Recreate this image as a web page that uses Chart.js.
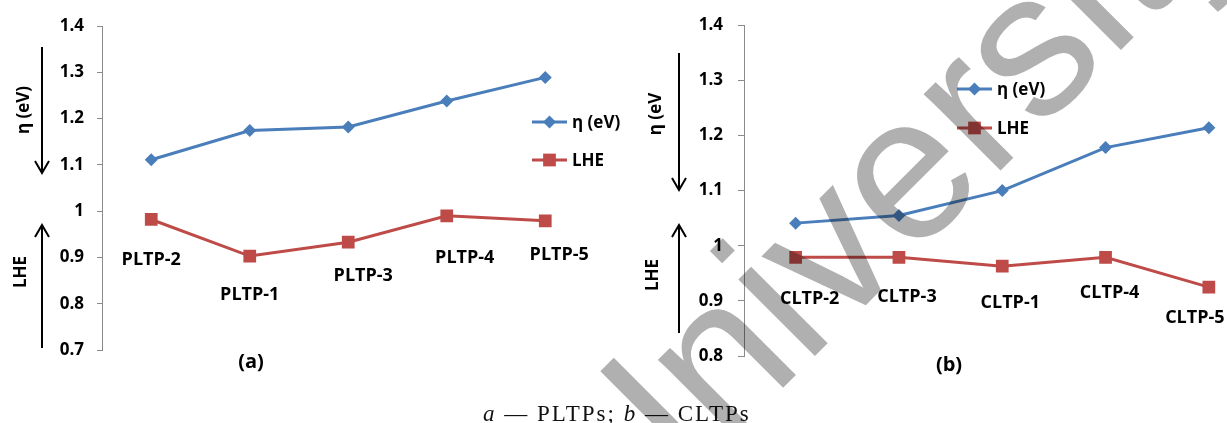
<!DOCTYPE html>
<html lang="en">
<head>
<meta charset="UTF-8">
<title>PLTPs / CLTPs</title>
<script src="https://cdn.jsdelivr.net/npm/chart.js"></script>
<style>
    html, body { margin: 0; padding: 0; background: #fff; overflow: hidden; }
    #wrap { position: relative; width: 1227px; height: 423px; overflow: hidden; }
    #boxA { position: absolute; left: 0; top: 0; }
    #boxB { position: absolute; left: 600px; top: 0; }
    #caption {
        position: absolute; left: 483px; top: 402px;
        font-family: "Liberation Serif", "Times New Roman", serif;
        font-size: 23px; line-height: 23px; letter-spacing: 2px;
        color: #111; white-space: nowrap;
    }
    #wm { position: absolute; left: 0; top: 0; mix-blend-mode: multiply; pointer-events: none; }
</style>
</head>
<body>
<div id="wrap">
    <div id="boxA"><canvas id="chartA" width="640" height="423"></canvas></div>
    <div id="boxB"><canvas id="chartB" width="680" height="423"></canvas></div>
    <div id="caption"><i>a</i> — PLTPs; <i>b</i> — CLTPs</div>
    <canvas id="wm" width="1227" height="423"></canvas>
</div>

<script>
// panel (a)
const catsA = ['PLTP-2', 'PLTP-1', 'PLTP-3', 'PLTP-4', 'PLTP-5'];
const etaA = [1.111, 1.174, 1.182, 1.238, 1.289];
const lheA = [0.982, 0.903, 0.933, 0.990, 0.979];

// panel (b)
const catsB = ['CLTP-2', 'CLTP-3', 'CLTP-1', 'CLTP-4', 'CLTP-5'];
const etaB = [1.041, 1.055, 1.100, 1.178, 1.214];
const lheB = [0.979, 0.979, 0.963, 0.979, 0.925];

const seriesNames = ['η (eV)', 'LHE'];

const BLUE = '#4a7ebb';
const RED = '#be4b48';
const FONT = '"Open Sans", Arial, sans-serif';

// small nudges for the hand-placed category labels (px, from the LHE point)
const nudgeA = { dx: [0, 0, 15, 18, 14], dy: [40, 39, 34, 42, 34] };
const nudgeB = { dx: [14, 8, 8, 4, -14], dy: [42, 40, 37, 36, 31] };

function marker(ctx, style, x, y, r, color) {
    ctx.fillStyle = color;
    ctx.beginPath();
    if (style === 'rectRot') {
        ctx.moveTo(x, y - r); ctx.lineTo(x + r, y); ctx.lineTo(x, y + r); ctx.lineTo(x - r, y);
    } else {
        const s = r * Math.SQRT1_2;
        ctx.rect(x - s, y - s, 2 * s, 2 * s);
    }
    ctx.closePath();
    ctx.fill();
}

function arrow(ctx, x, y1, y2) {
    // arrow from y1 to tip at y2
    const dir = y2 > y1 ? 1 : -1;
    ctx.save();
    ctx.strokeStyle = '#000';
    ctx.lineWidth = 2;
    ctx.beginPath();
    ctx.moveTo(x, y1); ctx.lineTo(x, y2);
    ctx.moveTo(x - 7, y2 - dir * 12); ctx.lineTo(x, y2); ctx.lineTo(x + 7, y2 - dir * 12);
    ctx.stroke();
    ctx.restore();
}

function rotText(ctx, txt, x, y, size) {
    ctx.save();
    ctx.translate(x, y);
    ctx.rotate(-Math.PI / 2);
    ctx.font = 'bold ' + size + 'px ' + FONT;
    ctx.fillStyle = '#000';
    ctx.textAlign = 'center';
    ctx.textBaseline = 'middle';
    ctx.fillText(txt, 0, 0);
    ctx.restore();
}

// extras: category labels under LHE points, legend, side labels, arrows
function extras(cfg) {
    return {
        id: 'extras',
        afterDatasetsDraw(chart) {
            const ctx = chart.ctx;
            const xs = chart.scales.x, ys = chart.scales.y;
            ctx.save();
            ctx.fillStyle = '#000';
            ctx.textAlign = 'center';
            ctx.textBaseline = 'middle';
            ctx.font = 'bold 18px ' + FONT;
            cfg.cats.forEach((c, i) => {
                const x = xs.getPixelForValue(i) + cfg.nudge.dx[i];
                const y = ys.getPixelForValue(cfg.lhe[i]) + cfg.nudge.dy[i];
                ctx.fillText(c, x, y);
            });

            // legend
            const lg = cfg.legend;
            chart.data.datasets.forEach((ds, k) => {
                const y = lg.y[k];
                ctx.strokeStyle = ds.borderColor;
                ctx.lineWidth = 3;
                ctx.beginPath();
                ctx.moveTo(lg.x, y); ctx.lineTo(lg.x + 35, y);
                ctx.stroke();
                marker(ctx, ds.pointStyle, lg.x + 17.5, y, ds.pointRadius, ds.borderColor);
                ctx.fillStyle = '#000';
                ctx.textAlign = 'left';
                ctx.font = 'bold 17px ' + FONT;
                ctx.fillText(ds.label, lg.x + 40, y + 1);
            });

            // panel letter
            ctx.textAlign = 'center';
            ctx.font = 'bold 20px ' + FONT;
            ctx.fillText(cfg.letter.t, cfg.letter.x, cfg.letter.y);
            ctx.restore();

            rotText(ctx, cfg.side.eta, cfg.side.x, cfg.side.etaY, 17);
            rotText(ctx, 'LHE', cfg.side.x - 3, cfg.side.lheY, 17);
            arrow(ctx, cfg.arrows.x, cfg.arrows.down[0], cfg.arrows.down[1]);
            arrow(ctx, cfg.arrows.x, cfg.arrows.up[0], cfg.arrows.up[1]);
        }
    };
}

function makeChart(id, cats, eta, lhe, yMin, opt) {
    return new Chart(document.getElementById(id), {
        type: 'line',
        data: {
            labels: cats,
            datasets: [
                {
                    label: seriesNames[0], data: eta,
                    borderColor: BLUE, backgroundColor: BLUE,
                    borderWidth: 3, pointStyle: 'rectRot', pointRadius: 6.5,
                    pointBorderWidth: 0, tension: 0
                },
                {
                    label: seriesNames[1], data: lhe,
                    borderColor: RED, backgroundColor: RED,
                    borderWidth: 3, pointStyle: 'rect', pointRadius: 9,
                    pointBorderWidth: 0, tension: 0
                }
            ]
        },
        options: {
            responsive: false,
            animation: false,
            devicePixelRatio: 1,
            layout: { padding: opt.padding },
            plugins: { legend: { display: false }, tooltip: { enabled: false } },
            scales: {
                x: { type: 'category', display: false, offset: true },
                y: {
                    min: yMin, max: 1.4,
                    afterFit: s => { s.width = opt.axisW; },
                    border: { display: true, color: '#8a8a8a', width: 1 },
                    grid: { drawOnChartArea: false, drawTicks: true, tickLength: opt.tickLen, color: '#8a8a8a' },
                    ticks: {
                        stepSize: 0.1, padding: opt.tickPad, color: '#000',
                        font: { family: FONT, weight: 'bold', size: 17 },
                        callback: v => String(+v.toFixed(1))
                    }
                }
            }
        },
        plugins: [extras(opt.extras)]
    });
}

makeChart('chartA', catsA, etaA, lheA, 0.7, {
    padding: { left: 0, top: 26, right: 45.5, bottom: 73 },
    axisW: 102, tickLen: 5, tickPad: 13,
    extras: {
        cats: catsA, lhe: lheA, nudge: nudgeA,
        legend: { x: 532, y: [122, 160] },
        letter: { t: '(a)', x: 251, y: 362 },
        side: { x: 24, eta: 'η (eV)', etaY: 110, lheY: 272 },
        arrows: { x: 42, down: [47, 173], up: [348, 225] }
    }
});

makeChart('chartB', catsB, etaB, lheB, 0.8, {
    padding: { left: 0, top: 24.5, right: 19.5, bottom: 67 },
    axisW: 144, tickLen: 6, tickPad: 15,
    extras: {
        cats: catsB, lhe: lheB, nudge: nudgeB,
        legend: { x: 957 - 600, y: [89, 128] },
        letter: { t: '(b)', x: 949 - 600, y: 365 },
        side: { x: 656 - 600, eta: 'η (eV', etaY: 114, lheY: 275 },
        arrows: { x: 679 - 600, down: [53, 190], up: [333, 225] }
    }
});

// watermark across the page
const wm = document.getElementById('wm').getContext('2d');
wm.translate(620, 551);
wm.rotate(-Math.PI / 4);
wm.font = '205px "Liberation Sans", Arial, sans-serif';
wm.fillStyle = '#b0b0b0';
wm.fillText('University', 0, 0);
</script>
</body>
</html>
